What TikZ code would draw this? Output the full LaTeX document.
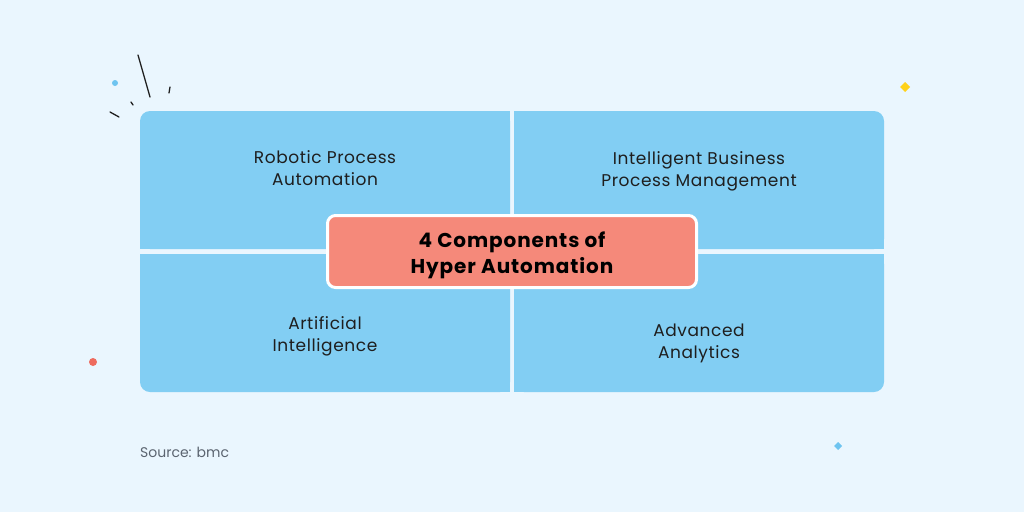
\documentclass[tikz,border=0pt]{standalone}
\usepackage{fontspec}
\setmainfont{Poppins}
\newfontfamily\panelfont[LetterSpace=3.5]{Poppins}
\newfontfamily\titlefont[LetterSpace=4.5]{Poppins}
\definecolor{bgc}{HTML}{EAF6FE}
\definecolor{panel}{HTML}{82CEF3}
\definecolor{pinkc}{HTML}{F5897A}
\definecolor{darkc}{HTML}{1E1E1E}
\definecolor{grayc}{HTML}{5B6470}
\definecolor{dotblue}{HTML}{6EC4F0}
\definecolor{dotred}{HTML}{EE6B5E}
\definecolor{dotyellow}{HTML}{FFD21A}
\tikzset{
  paneltext/.style={align=center, text=darkc, font=\panelfont\fontsize{17}{22}\selectfont},
  titlebox/.style={draw=white, line width=3pt, fill=pinkc, rounded corners=8pt,
    minimum width=369pt, minimum height=72pt},
  titletext/.style={align=center, text=black,
    font=\titlefont\fontsize{20}{26}\selectfont\bfseries},
  sparkline/.style={draw=darkc, line width=1.3pt, line cap=round},
}
\begin{document}
\begin{tikzpicture}[x=1pt,y=-1pt]
\fill[bgc] (0,0) rectangle (1024,512);
\useasboundingbox (0,0) rectangle (1024,512);
% panels
\fill[panel, rounded corners=10pt] (140,111) rectangle (510,249);
\fill[panel] (140,131) rectangle (510,249);
\fill[panel] (160,111) rectangle (510,249);
\fill[panel, rounded corners=10pt] (514,111) rectangle (884,249);
\fill[panel] (514,131) rectangle (884,249);
\fill[panel] (514,111) rectangle (864,249);
\fill[panel, rounded corners=10pt] (140,254) rectangle (510,392);
\fill[panel] (140,254) rectangle (510,372);
\fill[panel] (160,254) rectangle (510,392);
\fill[panel, rounded corners=10pt] (514,254) rectangle (884,392);
\fill[panel] (514,254) rectangle (884,372);
\fill[panel] (514,254) rectangle (864,392);
% texts
\node[paneltext] (rpa) at (325,168) {Robotic Process\\Automation};
\node[paneltext] (ibpm) at (699,171) {Intelligent Business\\Process Management};
\node[paneltext] (ai) at (325,336) {Artificial\\Intelligence};
\node[paneltext] (aa) at (699,343) {Advanced\\Analytics};
\node[titlebox] (title) at (512,251.5) {};
\node[titletext] (titlelabel) at (512,255.5) {4 Components of\\Hyper Automation};
\node[anchor=west, text=grayc, font=\fontsize{14}{16}\selectfont, inner sep=0pt] (src) at (140,452) {Source: bmc};
% decorations
\draw[sparkline] (138,55) -- (150,97);
\draw[sparkline] (170,87) -- (169,93);
\draw[sparkline] (131,102) -- (133,105);
\draw[sparkline] (110,112) -- (119,117);
\fill[dotblue] (115,83) circle (3pt);
\fill[dotred] (93,362) circle (4pt);
\fill[dotyellow] (905,82) -- (910,87) -- (905,92) -- (900,87) -- cycle;
\fill[dotblue] (838,442) -- (842,446) -- (838,450) -- (834,446) -- cycle;
\end{tikzpicture}
\end{document}
